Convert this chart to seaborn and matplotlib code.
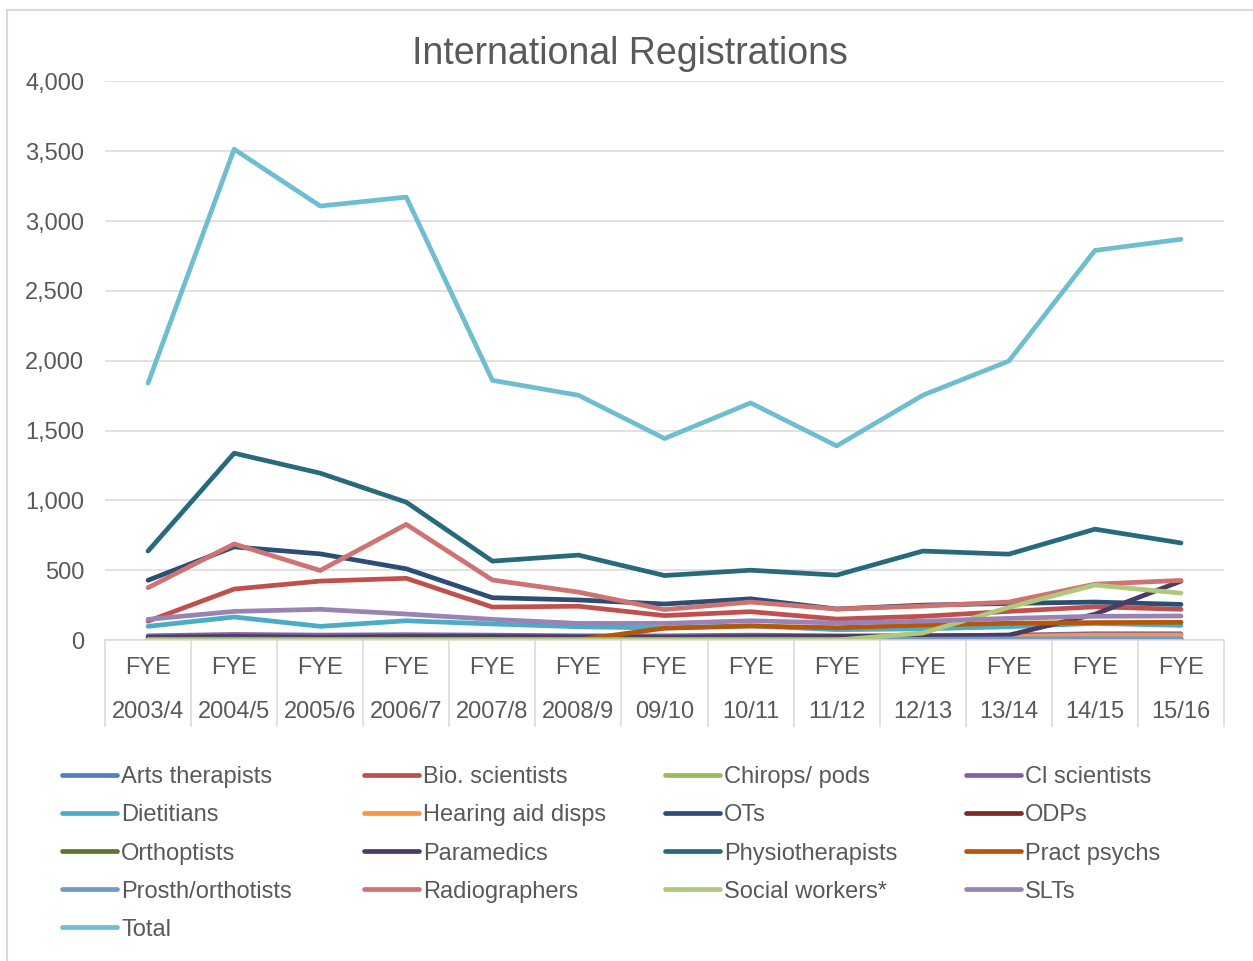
"""
International registrations by profession, FYE 2003/4 to 15/16.
Line chart redrawn with seaborn.
"""

import pandas as pd
import matplotlib
matplotlib.use('Agg')
import matplotlib.pyplot as plt
from matplotlib.lines import Line2D
from matplotlib.patches import Rectangle
import seaborn as sns

years = ['2003/4', '2004/5', '2005/6', '2006/7', '2007/8', '2008/9', '09/10',
         '10/11', '11/12', '12/13', '13/14', '14/15', '15/16']

# values
arts_therapists = [5, 8, 10, 8, 6, 5, 5, 6, 4, 5, 4, 5, 6]
bio_scientists = [135, 365, 422, 442, 236, 242, 175, 203, 150, 170, 205, 238, 220]
chirops_pods = [15, 18, 20, 15, 12, 10, 10, 12, 10, 8, 10, 12, 10]
cl_scientists = [30, 40, 35, 38, 35, 30, 30, 35, 30, 30, 35, 45, 45]
dietitians = [98, 165, 98, 138, 115, 95, 86, 103, 74, 80, 95, 119, 105]
hearing_aid = [0, 0, 0, 0, 0, 0, 0, 20, 18, 20, 25, 35, 35]
ots = [428, 667, 617, 510, 303, 287, 258, 295, 222, 250, 262, 272, 255]
odps = [2, 3, 4, 3, 3, 2, 2, 3, 3, 3, 2, 3, 3]
orthoptists = [3, 4, 4, 3, 3, 2, 2, 3, 2, 2, 2, 3, 3]
paramedics = [20, 25, 20, 25, 25, 22, 20, 25, 25, 30, 35, 185, 422]
physios = [637, 1338, 1195, 987, 565, 608, 462, 500, 465, 637, 615, 794, 695]
pract_psychs = [0, 0, 0, 0, 0, 0, 85, 100, 88, 107, 120, 125, 127]
prosth = [5, 6, 5, 5, 5, 5, 5, 6, 5, 5, 8, 10, 10]
radiographers = [375, 688, 498, 828, 430, 343, 218, 272, 222, 243, 272, 400, 427]
social_workers = [0, 0, 0, 0, 0, 0, 0, 0, 0, 50, 234, 394, 336]
slts = [148, 205, 220, 186, 148, 119, 119, 138, 122, 135, 155, 170, 172]
total = [1840, 3515, 3108, 3172, 1860, 1753, 1443, 1698, 1390, 1753, 1998, 2790, 2870]

series = {
    'Arts therapists': (arts_therapists, '#4F81BD'),
    'Bio. scientists': (bio_scientists, '#C0504D'),
    'Chirops/ pods': (chirops_pods, '#9BBB59'),
    'Cl scientists': (cl_scientists, '#8064A2'),
    'Dietitians': (dietitians, '#4BACC6'),
    'Hearing aid disps': (hearing_aid, '#F79646'),
    'OTs': (ots, '#2C4D75'),
    'ODPs': (odps, '#772C2A'),
    'Orthoptists': (orthoptists, '#5F7530'),
    'Paramedics': (paramedics, '#4D3B62'),
    'Physiotherapists': (physios, '#276A7C'),
    'Pract psychs': (pract_psychs, '#B65708'),
    'Prosth/orthotists': (prosth, '#729ACA'),
    'Radiographers': (radiographers, '#CD7371'),
    'Social workers*': (social_workers, '#AFC97A'),
    'SLTs': (slts, '#9983B5'),
    'Total': (total, '#6FBDD1'),
}
names = list(series.keys())
palette = {n: c for n, (v, c) in series.items()}

rows = []
for name, (vals, _) in series.items():
    for i, v in enumerate(vals):
        rows.append({'pos': i, 'value': v, 'series': name})
df = pd.DataFrame(rows)

sns.set_style('white')
plt.rcParams['font.family'] = ['Liberation Sans', 'DejaVu Sans']
grey = '#595959'
LW = 3.4

fig = plt.figure(figsize=(12.53, 9.61), dpi=100)
ax = fig.add_axes([0.0838, 0.3340, 0.8931, 0.5812])

sns.lineplot(data=df, x='pos', y='value', hue='series', hue_order=names,
             palette=palette, linewidth=LW, legend=False, ax=ax,
             solid_capstyle='round', solid_joinstyle='round')

ax.set_xlim(-0.5, len(years) - 0.5)
ax.set_ylim(0, 4000)
ax.set_yticks(range(0, 4001, 500))
ax.set_yticklabels([f'{t:,}' for t in range(0, 4001, 500)])
ax.set_xticks(range(len(years)))
ax.set_xticklabels([f'FYE\n{y}' for y in years])
for lab in ax.get_xticklabels():
    lab.set_linespacing(2.3)
ax.tick_params(axis='y', length=0, pad=15, labelsize=17, labelcolor=grey)
ax.tick_params(axis='x', length=0, pad=12, labelsize=17, labelcolor=grey)
ax.set_xlabel('')
ax.set_ylabel('')

ax.yaxis.grid(True, color='#D9D9D9', linewidth=1.1)
ax.set_axisbelow(True)
for side in ['left', 'right', 'top']:
    ax.spines[side].set_visible(False)
ax.spines['bottom'].set_color('#D9D9D9')
ax.spines['bottom'].set_linewidth(1.1)

# category separators of the two-level axis
ax.vlines([k - 0.5 for k in range(len(years) + 1)], -0.156, 0,
          transform=ax.get_xaxis_transform(), colors='#D9D9D9',
          linewidth=1.1, clip_on=False)

fig.text(0.503, 0.944, 'International Registrations', ha='center', va='center',
         fontsize=27, color=grey)

# legend laid out row by row in four columns
handles = [Line2D([], [], color=palette[n], linewidth=LW, solid_capstyle='round')
           for n in names]
col_x = [0.0495, 0.2905, 0.5307, 0.7709]
for c in range(4):
    idx = list(range(c, len(names), 4))
    fig.legend([handles[i] for i in idx], [names[i] for i in idx],
               loc='upper left', bbox_to_anchor=(col_x[c], 0.2025),
               frameon=False, borderpad=0, borderaxespad=0,
               handlelength=2.33, handletextpad=0.17, labelspacing=0.68,
               fontsize=17, labelcolor=grey)

fig.patches.append(Rectangle((0.0056, -0.01), 1.0, 0.9996, transform=fig.transFigure,
                             fill=False, edgecolor='#D9D9D9', linewidth=1.5))

plt.savefig('out.png', dpi=100)
plt.close()
